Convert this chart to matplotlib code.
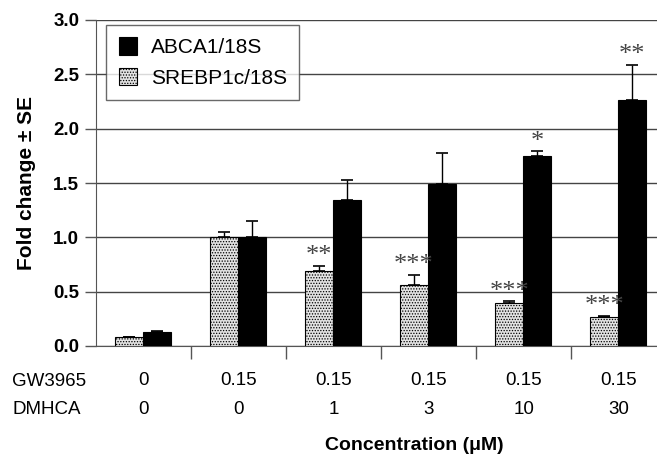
import matplotlib
matplotlib.use("Agg")
import matplotlib.pyplot as plt
import numpy as np

groups = ["g1", "g2", "g3", "g4", "g5", "g6"]
gw3965 = ["0", "0.15", "0.15", "0.15", "0.15", "0.15"]
dmhca = ["0", "0", "1", "3", "10", "30"]
srebp = [0.08, 1.00, 0.69, 0.56, 0.40, 0.27]
srebp_err = [0.005, 0.05, 0.05, 0.09, 0.01, 0.01]
abca = [0.13, 1.00, 1.34, 1.49, 1.75, 2.26]
abca_err = [0.01, 0.15, 0.19, 0.29, 0.04, 0.33]
srebp_stars = ["", "", "**", "***", "***", "***"]
abca_stars = ["", "", "", "", "*", "**"]

plt.rcParams['font.family'] = ['Liberation Sans', 'DejaVu Sans']
plt.rcParams['hatch.color'] = '#9a9a9a'
plt.rcParams['hatch.linewidth'] = 0.6

fig = plt.figure(figsize=(6.57, 4.58), dpi=100)
ax = fig.add_axes([96/657, 1-346/458, 1-96/657, 326/458])

x = np.arange(len(groups))
w = 0.29
gx = x - 0.155
bx = x + 0.14
ax.bar(gx, srebp, w, color='#e2e2e2', edgecolor='black', linewidth=0.8, hatch='......', zorder=3,
       label='SREBP1c/18S')
ax.bar(bx, abca, w, color='black', edgecolor='black', linewidth=0.8, zorder=3, label='ABCA1/18S')
ax.errorbar(gx, srebp, yerr=[np.zeros(6), srebp_err], fmt='none', ecolor='black', elinewidth=1,
            capsize=4, capthick=1.2, zorder=4)
ax.errorbar(bx, abca, yerr=[np.zeros(6), abca_err], fmt='none', ecolor='black', elinewidth=1,
            capsize=4, capthick=1.2, zorder=4)

for xs, vals, errs, stars in [(gx, srebp, srebp_err, srebp_stars), (bx, abca, abca_err, abca_stars)]:
    for xi, v, e, s in zip(xs, vals, errs, stars):
        if s:
            ax.text(xi, v + e - 0.01, s, ha='center', va='bottom', fontsize=19,
                    family='Liberation Serif', color='#444444')

ax.set_ylim(0, 3.0)
ax.set_xlim(-0.5, 5.4)
ax.set_yticks(np.arange(0, 3.01, 0.5))
ax.set_yticklabels([f"{t:.1f}" for t in np.arange(0, 3.01, 0.5)], fontweight='bold', fontsize=13.5)
ax.yaxis.grid(True, color='#444444', linewidth=1.0, zorder=0)
ax.set_axisbelow(True)
ax.set_xticks(x[:-1] + 0.5)
ax.set_xticklabels([])
ax.tick_params(axis='x', direction='out', length=9, width=1, color='#555555')
ax.tick_params(axis='y', direction='out', length=8, width=1, color='#555555', pad=4)
for sp in ['top', 'right']:
    ax.spines[sp].set_visible(False)
ax.spines['left'].set_color('#555555')
ax.spines['bottom'].set_color('#555555')
ax.set_ylabel('Fold change \u00b1 SE', fontsize=15, fontweight='bold')
ax.yaxis.set_label_coords(-(96-36)/561, 0.5)

h, l = ax.get_legend_handles_labels()
leg = ax.legend(h[::-1], l[::-1], loc='upper left', bbox_to_anchor=(10/561, 1-5/326), fontsize=15,
                frameon=True, fancybox=False, edgecolor='#444444', borderpad=0.6,
                handlelength=0.9, handleheight=0.9, labelspacing=0.5, handletextpad=0.65,
                borderaxespad=0)
leg.get_frame().set_linewidth(1.0)
leg._legend_box.align = "left"

# Condition rows
fig.text(12/657, 1-381/458, 'GW3965', ha='left', va='center', fontsize=13.5)
fig.text(12/657, 1-410/458, 'DMHCA', ha='left', va='center', fontsize=13.5)
for xi, a, b in zip(x, gw3965, dmhca):
    ax.text(xi, -(381-346)/108.7, a, ha='center', va='center', fontsize=13.5, clip_on=False)
    ax.text(xi, -(410-346)/108.7, b, ha='center', va='center', fontsize=13.5, clip_on=False)
fig.text(414/657, 1-445/458, 'Concentration (\u03bcM)', ha='center', va='center', fontsize=14,
         fontweight='bold')

fig.savefig('out.png', dpi=100)
